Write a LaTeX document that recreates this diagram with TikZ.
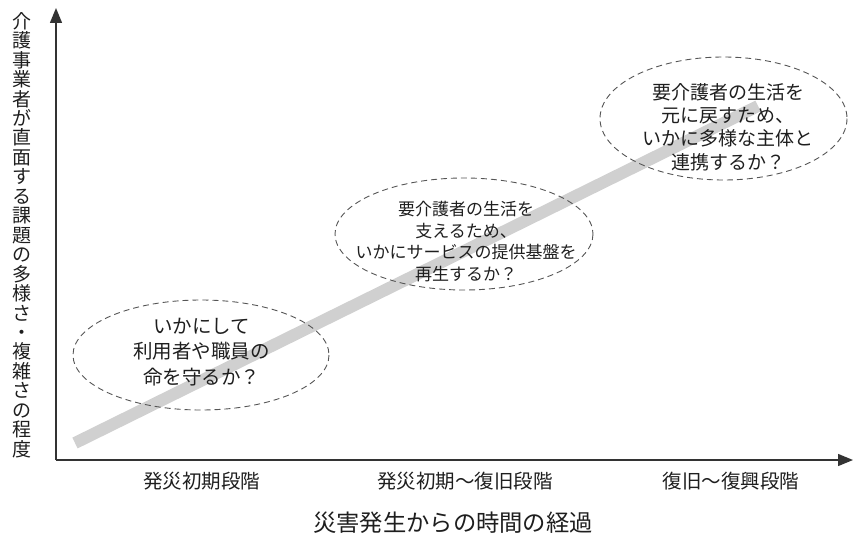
\documentclass[tikz,border=0pt]{standalone}
\usepackage{fontspec}
\setmainfont{Noto Sans CJK JP}
\usetikzlibrary{arrows.meta}
\definecolor{bandgrey}{HTML}{D0D0D0}
\definecolor{axisgrey}{HTML}{333333}
\definecolor{dashgrey}{HTML}{555555}
\definecolor{ink}{HTML}{1E1E1E}
\begin{document}
\begin{tikzpicture}[x=1pt,y=-1pt,
  axisline/.style={line width=1.4pt, draw=axisgrey, -{Triangle[length=15pt,width=12pt]}},
  bandline/.style={line width=12pt, draw=bandgrey, line cap=butt},
  bubble/.style={draw=dashgrey, line width=0.9pt, dash pattern=on 6pt off 4pt},
  bubtext/.style={align=center, text=ink, inner sep=0pt},
  axlabel/.style={text=ink, inner sep=0pt, font=\fontsize{19.5}{22}\selectfont},
]
\useasboundingbox (0,0) rectangle (853,543);
% band
\coordinate (b1) at (75,443);
\coordinate (b2) at (758,106);
\draw[bandline] (b1) -- (b2);
% axes
\coordinate (o) at (56,460);
\coordinate (ytip) at (56,8);
\coordinate (xtip) at (853,460);
\draw[axisline] (o) -- (ytip);
\draw[axisline] (o) -- (xtip);
% bubbles
\coordinate (e1) at (201,355);
\coordinate (e2) at (464,234);
\coordinate (e3) at (723.5,118.5);
\draw[bubble] (e1) ellipse [x radius=128, y radius=55];
\draw[bubble] (e2) ellipse [x radius=129, y radius=56];
\draw[bubble] (e3) ellipse [x radius=123.5, y radius=61.5];
% bubble texts
\node[bubtext, font=\fontsize{19.5}{25.5}\selectfont] (t1) at (201.5,352)
  {いかにして\\利用者や職員の\\命を守るか？};
\node[bubtext, font=\fontsize{17}{21.7}\selectfont] (t2) at (466,241.5)
  {要介護者の生活を\\支えるため、\\いかにサービスの提供基盤を\\再生するか？};
\node[bubtext, font=\fontsize{19}{23.3}\selectfont] (t3) at (728,127)
  {要介護者の生活を\\元に戻すため、\\いかに多様な主体と\\連携するか？};
% axis labels
\node[axlabel] (l1) at (201.5,481) {発災初期段階};
\node[axlabel] (l2) at (465,481) {発災初期～復旧段階};
\node[axlabel] (l3) at (731,481) {復旧～復興段階};
\node[text=ink, inner sep=0pt, font=\fontsize{23.3}{26}\selectfont] (xt) at (453,523) {災害発生からの時間の経過};
\node[text=ink, inner sep=0pt, align=center, font=\fontsize{19}{19.45}\selectfont] (yt) at (22,235)
  {介\\護\\事\\業\\者\\が\\直\\面\\す\\る\\課\\題\\の\\多\\様\\さ\\・\\複\\雑\\さ\\の\\程\\度};
\end{tikzpicture}
\end{document}
